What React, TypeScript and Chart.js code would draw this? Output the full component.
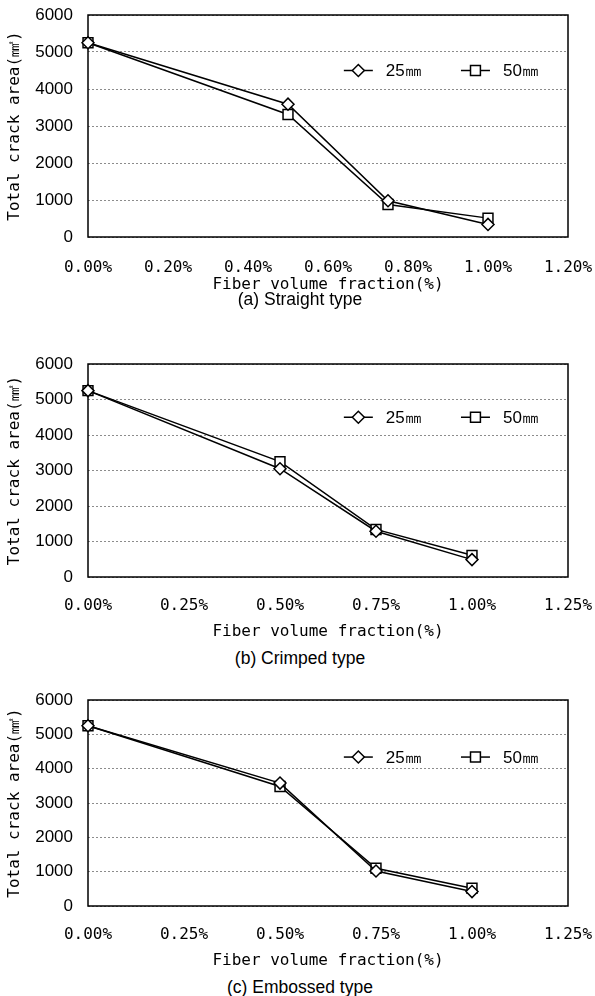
import React, { useEffect, useRef } from 'react';
import { Chart, registerables } from 'chart.js';
import { drawPoint } from 'chart.js/helpers';

Chart.register(...registerables);
Chart.defaults.color = '#000';

// ---------- data ----------
const fiberFractions = [0, 0.5, 0.75, 1.0]; // %
const seriesLabels = ['25㎜', '50㎜'];

const straight25 = [5250, 3590, 980, 340];
const straight50 = [5250, 3310, 880, 510];

const crimped25 = [5250, 3050, 1290, 490];
const crimped50 = [5250, 3250, 1340, 610];

const embossed25 = [5250, 3580, 1020, 420];
const embossed50 = [5250, 3480, 1100, 515];

const xMaxStraight = 1.2;
const xStepStraight = 0.2;
const xMaxOther = 1.25;
const xStepOther = 0.25;

const yMin = 0;
const yMax = 6000;
const yStep = 1000;

const xAxisTitle = 'Fiber volume fraction(%)';
const yAxisTitle = 'Total crack area(㎟)';
const captions = ['(a) Straight type', '(b) Crimped type', '(c) Embossed type'];

// ---------- plugins ----------
const framePlugin = {
  id: 'frame',
  beforeDatasetsDraw(chart: any) {
    const { ctx, chartArea } = chart;
    ctx.save();
    ctx.strokeStyle = '#000';
    ctx.lineWidth = 1.5;
    ctx.strokeRect(chartArea.left, chartArea.top, chartArea.right - chartArea.left, chartArea.bottom - chartArea.top);
    ctx.restore();
  },
};

const inlineLegendPlugin = {
  id: 'inlineLegend',
  afterDatasetsDraw(chart: any, _args: any, opts: any) {
    const { ctx, chartArea } = chart;
    const w = chartArea.right - chartArea.left;
    const h = chartArea.bottom - chartArea.top;
    const y = chartArea.top + opts.yFrac * h;
    ctx.save();
    chart.data.datasets.forEach((ds: any, i: number) => {
      const x0 = chartArea.left + opts.xFracs[i] * w;
      ctx.strokeStyle = ds.borderColor;
      ctx.lineWidth = ds.borderWidth;
      ctx.beginPath();
      ctx.moveTo(x0, y);
      ctx.lineTo(x0 + opts.lineLen, y);
      ctx.stroke();
      ctx.fillStyle = ds.pointBackgroundColor;
      ctx.strokeStyle = ds.pointBorderColor;
      ctx.lineWidth = ds.pointBorderWidth;
      drawPoint(ctx, { pointStyle: ds.pointStyle, radius: ds.pointRadius, borderWidth: ds.pointBorderWidth, rotation: 0 }, x0 + opts.lineLen / 2, y);
      ctx.fillStyle = '#000';
      ctx.font = opts.font;
      ctx.textBaseline = 'middle';
      ctx.textAlign = 'left';
      ctx.fillText(ds.label, x0 + opts.lineLen + opts.textGap, y + 1);
    });
    ctx.restore();
  },
};

// ---------- panel ----------
type PanelProps = {
  top: number;
  height: number;
  padTop: number;
  chartBottom: number;
  tickPad: number;
  xMax: number;
  xStep: number;
  s25: number[];
  s50: number[];
  legendY: number;
};

const CHART_LEFT = 88;
const PAD_RIGHT = 27;
const WIDTH = 595;

function Panel(p: PanelProps) {
  const ref = useRef<HTMLCanvasElement | null>(null);
  useEffect(() => {
    if (!ref.current) return;
    const toPts = (vals: number[]) => fiberFractions.map((x, i) => ({ x, y: vals[i] }));
    const common = {
      borderColor: '#000',
      borderWidth: 1.5,
      pointBackgroundColor: '#fff',
      pointBorderColor: '#000',
      pointBorderWidth: 1.5,
      tension: 0,
      fill: false,
      clip: false,
    };
    const chart = new Chart(ref.current, {
      type: 'line',
      data: {
        datasets: [
          { ...common, label: seriesLabels[0], data: toPts(p.s25), pointStyle: 'rectRot', pointRadius: 6, pointHoverRadius: 6 },
          { ...common, label: seriesLabels[1], data: toPts(p.s50), pointStyle: 'rect', pointRadius: 7, pointHoverRadius: 7 },
        ],
      },
      options: {
        responsive: false,
        animation: false,
        events: [],
        layout: { padding: { top: p.padTop, right: PAD_RIGHT, left: 0, bottom: 0 } },
        plugins: {
          legend: { display: false },
          tooltip: { enabled: false },
          inlineLegend: {
            xFracs: [0.533, 0.777],
            yFrac: p.legendY,
            lineLen: 29,
            textGap: 13,
            font: '17px "Liberation Sans", Arial, sans-serif',
          },
        } as any,
        scales: {
          x: {
            type: 'linear',
            min: 0,
            max: p.xMax,
            grid: { display: false, drawTicks: false },
            border: { display: false },
            ticks: {
              stepSize: p.xStep,
              padding: p.tickPad,
              maxRotation: 0,
              autoSkip: false,
              font: { family: '"DejaVu Sans Mono", monospace', size: 16 },
              callback: (v: any) => Number(v).toFixed(2) + '%',
            },
            title: {
              display: true,
              text: xAxisTitle,
              font: { family: '"DejaVu Sans Mono", monospace', size: 16 },
              padding: { top: 0, bottom: 0 },
            },
            afterFit: (scale: any) => {
              scale.height = p.height - p.chartBottom;
              scale.paddingLeft = 0;
              scale.paddingRight = 0;
            },
          },
          y: {
            type: 'linear',
            min: yMin,
            max: yMax,
            grid: { color: '#8c8c8c', lineWidth: 1, drawTicks: false },
            border: { display: false, dash: [2, 2] },
            ticks: {
              stepSize: yStep,
              padding: 15,
              font: { family: '"Liberation Sans", Arial, sans-serif', size: 17 },
              callback: (v: any) => String(v),
            },
            title: {
              display: true,
              text: yAxisTitle,
              font: { family: '"DejaVu Sans Mono", monospace', size: 16 },
              padding: { top: 5, bottom: 0 },
            },
            afterFit: (scale: any) => {
              scale.width = CHART_LEFT;
              scale.paddingTop = 0;
              scale.paddingBottom = 0;
            },
          },
        },
      },
      plugins: [framePlugin, inlineLegendPlugin],
    } as any);
    return () => chart.destroy();
  }, []);
  return (
    <canvas
      ref={ref}
      width={WIDTH}
      height={p.height}
      style={{ position: 'absolute', left: 0, top: p.top, width: WIDTH, height: p.height }}
    />
  );
}

function Caption({ text, y }: { text: string; y: number }) {
  return (
    <div
      style={{
        position: 'absolute',
        left: 0,
        width: 600,
        top: y - 10,
        height: 20,
        lineHeight: '20px',
        textAlign: 'center',
        fontFamily: '"Liberation Sans", Arial, sans-serif',
        fontSize: 17.5,
        color: '#000',
      }}
    >
      {text}
    </div>
  );
}

export default function App() {
  return (
    <div style={{ position: 'absolute', left: 0, top: 0, width: 595, height: 996, background: '#fff', overflow: 'hidden' }}>
      <Panel top={0} height={294} padTop={15} chartBottom={237} tickPad={21} xMax={xMaxStraight} xStep={xStepStraight} s25={straight25} s50={straight50} legendY={0.25} />
      <Caption text={captions[0]} y={299} />
      <Panel top={340} height={301} padTop={24} chartBottom={237} tickPad={19} xMax={xMaxOther} xStep={xStepOther} s25={crimped25} s50={crimped50} legendY={0.25} />
      <Caption text={captions[1]} y={658} />
      <Panel top={680} height={290} padTop={20} chartBottom={226} tickPad={19} xMax={xMaxOther} xStep={xStepOther} s25={embossed25} s50={embossed50} legendY={0.277} />
      <Caption text={captions[2]} y={987} />
    </div>
  );
}
